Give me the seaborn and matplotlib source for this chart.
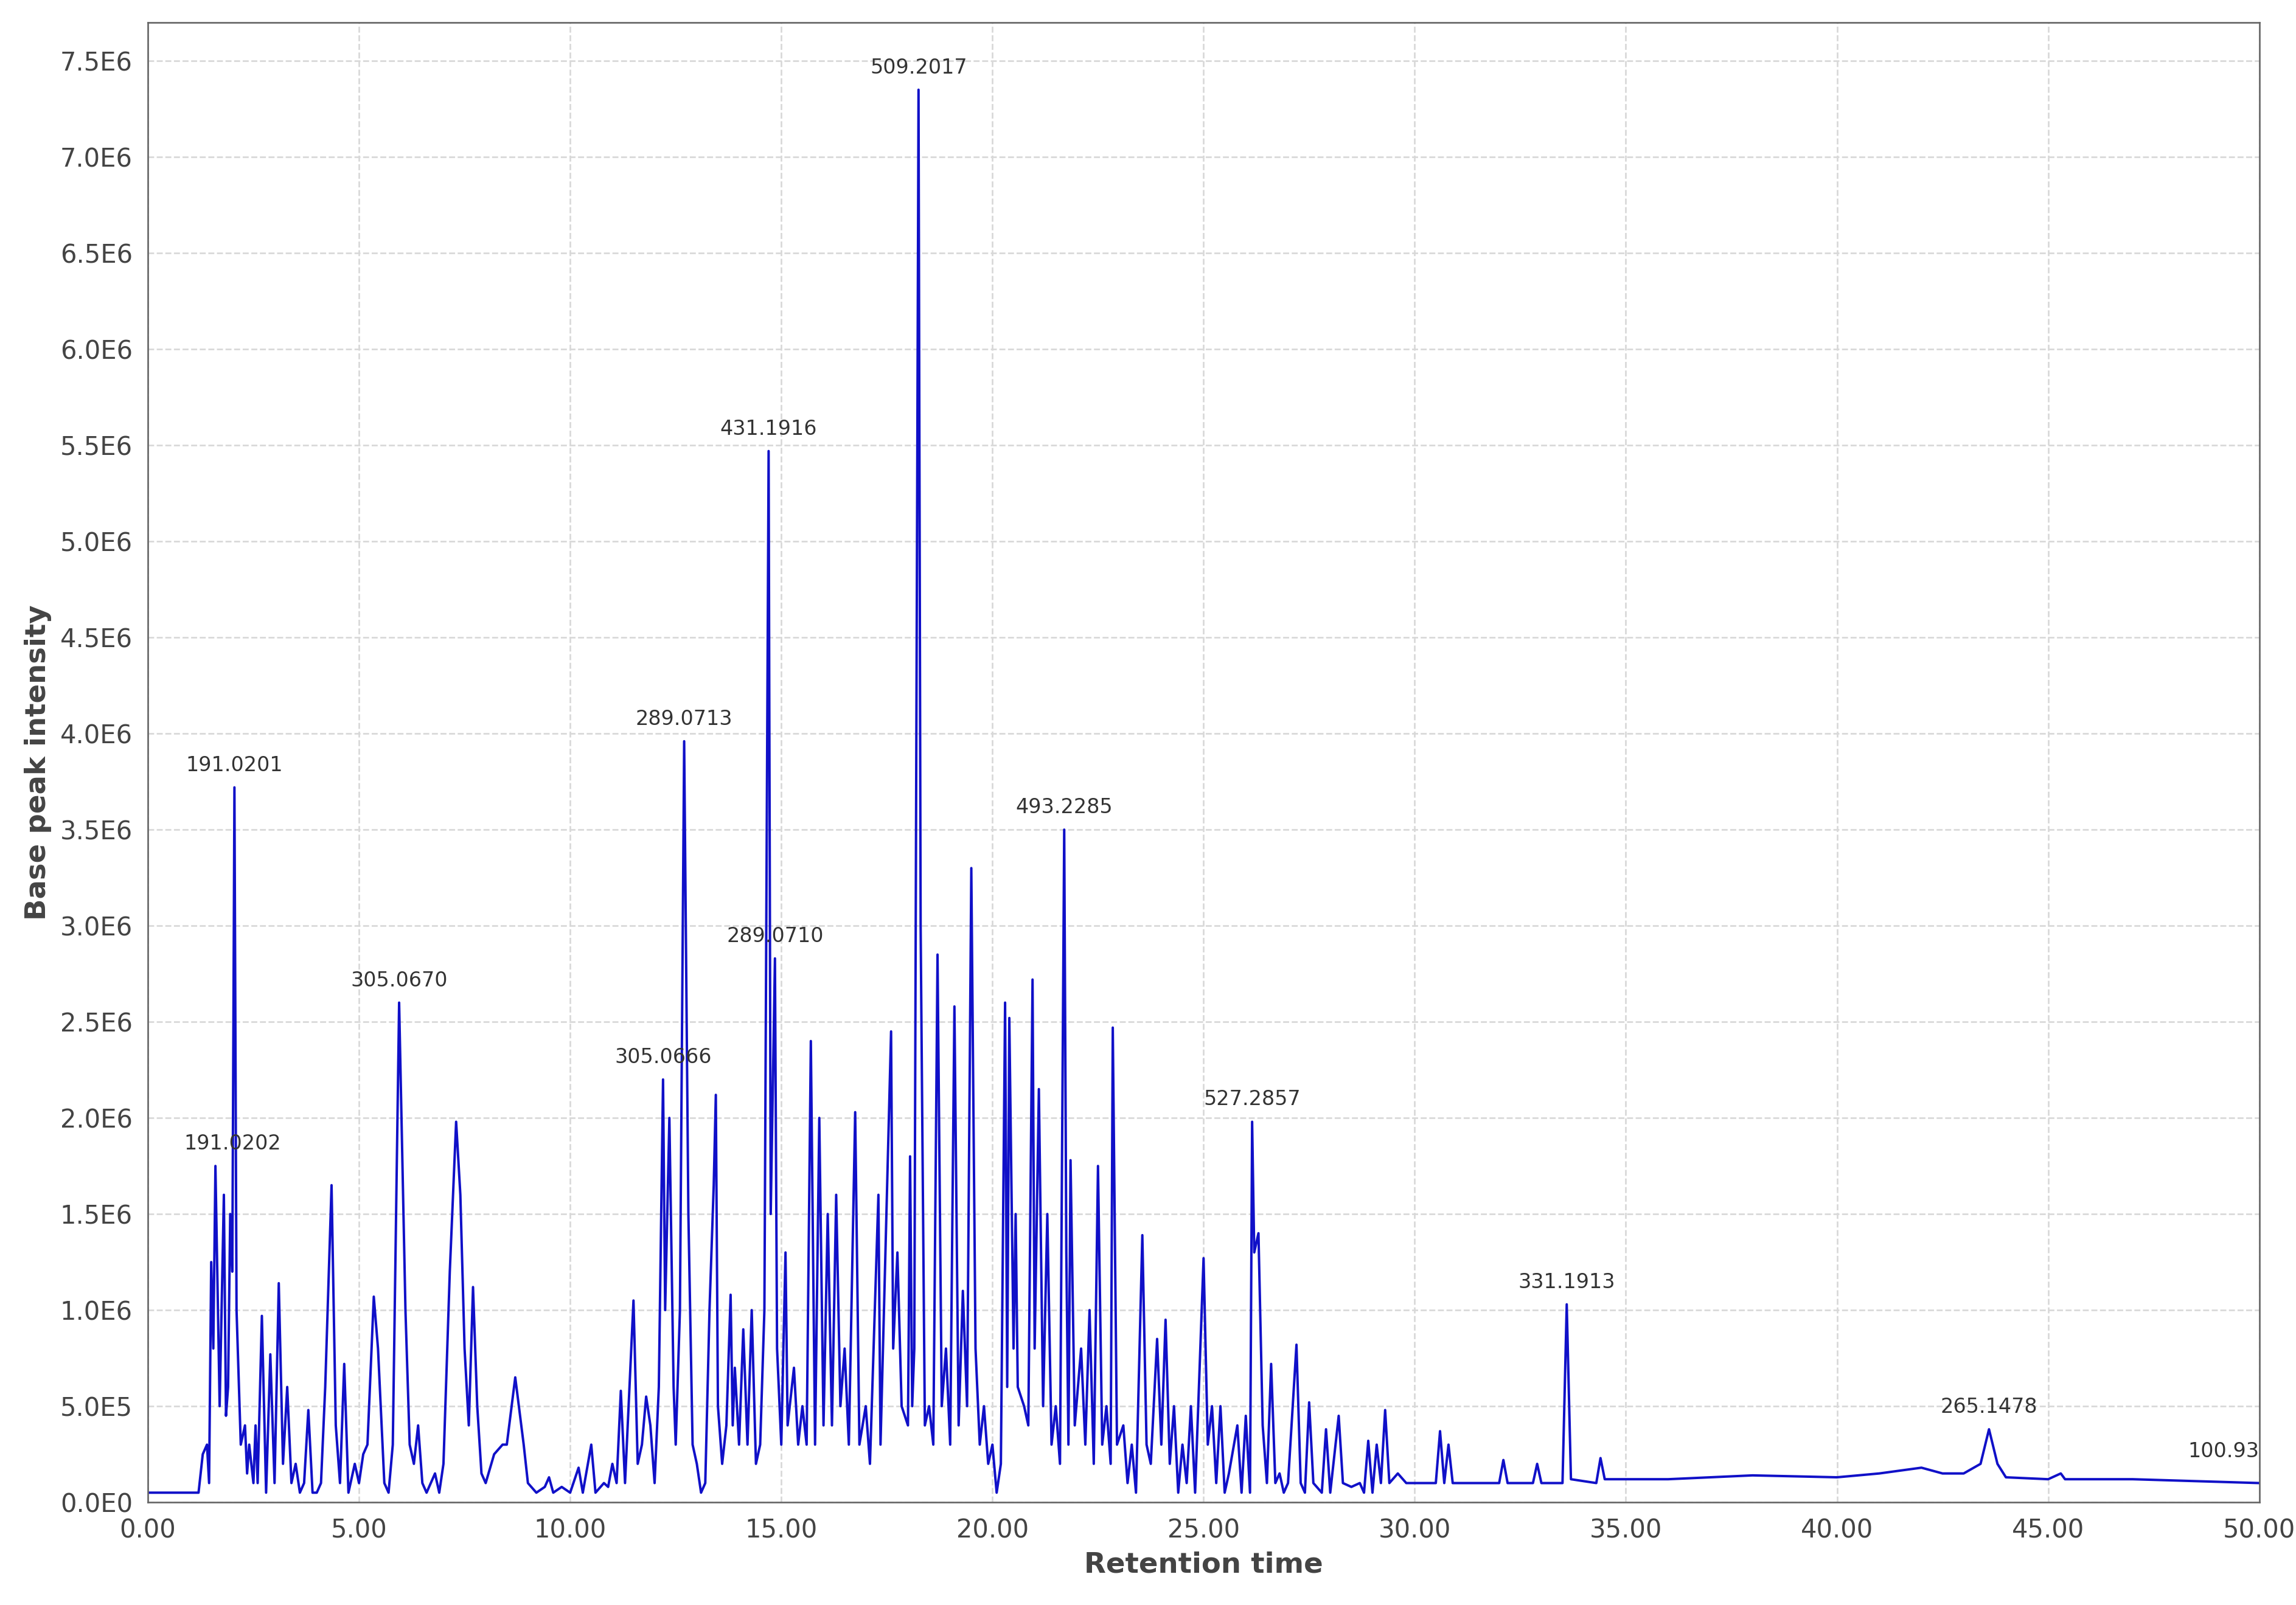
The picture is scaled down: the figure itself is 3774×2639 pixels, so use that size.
import numpy as np
import pandas as pd
import seaborn as sns
import matplotlib.pyplot as plt
import matplotlib.ticker as ticker

sns.set_style('white')
plt.rcParams['font.family'] = ['DejaVu Sans']

# retention time (min) and base peak intensity (x1E6)
rt = [0.0, 1.2, 1.3, 1.4, 1.45, 1.5, 1.55, 1.6, 1.7, 1.8, 1.85, 1.9, 1.95, 2.0, 2.05, 2.1, 2.2, 2.3, 2.35, 2.4,
      2.5, 2.55, 2.6, 2.7, 2.8, 2.9, 3.0, 3.1, 3.2, 3.3, 3.4, 3.5, 3.6, 3.7, 3.8, 3.9, 4.0, 4.1, 4.2, 4.35,
      4.45, 4.55, 4.65, 4.75, 4.9, 5.0, 5.1, 5.2, 5.35, 5.45, 5.6, 5.7, 5.8, 5.95, 6.1, 6.2, 6.3, 6.4, 6.5, 6.6,
      6.8, 6.9, 7.0, 7.15, 7.3, 7.4, 7.5, 7.6, 7.7, 7.8, 7.9, 8.0, 8.2, 8.4, 8.5, 8.7, 8.9, 9.0, 9.2, 9.4,
      9.5, 9.6, 9.8, 10.0, 10.2, 10.3, 10.5, 10.6, 10.8, 10.9, 11.0, 11.1, 11.2, 11.3, 11.5, 11.6, 11.7, 11.8, 11.9, 12.0,
      12.1, 12.2, 12.25, 12.35, 12.45, 12.5, 12.6, 12.7, 12.8, 12.9, 13.0, 13.1, 13.2, 13.3, 13.4, 13.45, 13.5, 13.6, 13.7, 13.8,
      13.85, 13.9, 14.0, 14.1, 14.2, 14.3, 14.4, 14.5, 14.6, 14.7, 14.75, 14.85, 14.9, 15.0, 15.1, 15.15, 15.3, 15.4, 15.5, 15.6,
      15.7, 15.8, 15.9, 16.0, 16.1, 16.2, 16.3, 16.4, 16.5, 16.6, 16.75, 16.85, 17.0, 17.1, 17.3, 17.35, 17.6, 17.65, 17.75, 17.85,
      18.0, 18.05, 18.1, 18.15, 18.25, 18.3, 18.4, 18.5, 18.6, 18.7, 18.8, 18.9, 19.0, 19.1, 19.2, 19.3, 19.4, 19.5, 19.6, 19.7,
      19.8, 19.9, 20.0, 20.1, 20.2, 20.3, 20.35, 20.4, 20.5, 20.55, 20.6, 20.75, 20.85, 20.95, 21.0, 21.1, 21.2, 21.3, 21.4, 21.5,
      21.6, 21.7, 21.75, 21.8, 21.85, 21.95, 22.1, 22.2, 22.3, 22.4, 22.5, 22.6, 22.7, 22.8, 22.85, 22.95, 23.1, 23.2, 23.3, 23.4,
      23.55, 23.65, 23.75, 23.9, 24.0, 24.1, 24.2, 24.3, 24.4, 24.5, 24.6, 24.7, 24.8, 25.0, 25.1, 25.2, 25.3, 25.4, 25.5, 25.6,
      25.8, 25.9, 26.0, 26.1, 26.15, 26.2, 26.3, 26.4, 26.5, 26.6, 26.7, 26.8, 26.9, 27.0, 27.2, 27.3, 27.4, 27.5, 27.6, 27.8,
      27.9, 28.0, 28.2, 28.3, 28.5, 28.7, 28.8, 28.9, 29.0, 29.1, 29.2, 29.3, 29.4, 29.6, 29.8, 30.0, 30.5, 30.6, 30.7, 30.8,
      30.9, 31.5, 32.0, 32.1, 32.2, 32.8, 32.9, 33.0, 33.5, 33.6, 33.7, 34.3, 34.4, 34.5, 36.0, 38.0, 40.0, 41.0, 42.0, 42.5,
      43.0, 43.4, 43.6, 43.8, 44.0, 45.0, 45.3, 45.4, 47.0, 50.0]
bpi = [0.05, 0.05, 0.25, 0.3, 0.1, 1.25, 0.8, 1.75, 0.5, 1.6, 0.45, 0.6, 1.5, 1.2, 3.72, 1.0, 0.3, 0.4, 0.15, 0.3,
       0.1, 0.4, 0.1, 0.97, 0.05, 0.77, 0.1, 1.14, 0.2, 0.6, 0.1, 0.2, 0.05, 0.1, 0.48, 0.05, 0.05, 0.1, 0.6, 1.65,
       0.4, 0.1, 0.72, 0.05, 0.2, 0.1, 0.25, 0.3, 1.07, 0.8, 0.1, 0.05, 0.3, 2.6, 1.0, 0.3, 0.2, 0.4, 0.1, 0.05,
       0.15, 0.05, 0.2, 1.2, 1.98, 1.6, 0.8, 0.4, 1.12, 0.5, 0.15, 0.1, 0.25, 0.3, 0.3, 0.65, 0.3, 0.1, 0.05, 0.08,
       0.13, 0.05, 0.08, 0.05, 0.18, 0.05, 0.3, 0.05, 0.1, 0.08, 0.2, 0.1, 0.58, 0.1, 1.05, 0.2, 0.3, 0.55, 0.4, 0.1,
       0.6, 2.2, 1.0, 2.0, 0.6, 0.3, 1.0, 3.96, 1.5, 0.3, 0.2, 0.05, 0.1, 1.0, 1.65, 2.12, 0.5, 0.2, 0.4, 1.08,
       0.4, 0.7, 0.3, 0.9, 0.3, 1.0, 0.2, 0.3, 1.0, 5.47, 1.5, 2.83, 0.8, 0.3, 1.3, 0.4, 0.7, 0.3, 0.5, 0.3,
       2.4, 0.3, 2.0, 0.4, 1.5, 0.4, 1.6, 0.5, 0.8, 0.3, 2.03, 0.3, 0.5, 0.2, 1.6, 0.3, 2.45, 0.8, 1.3, 0.5,
       0.4, 1.8, 0.5, 0.8, 7.35, 3.0, 0.4, 0.5, 0.3, 2.85, 0.5, 0.8, 0.3, 2.58, 0.4, 1.1, 0.5, 3.3, 0.8, 0.3,
       0.5, 0.2, 0.3, 0.05, 0.2, 2.6, 0.6, 2.52, 0.8, 1.5, 0.6, 0.5, 0.4, 2.72, 0.8, 2.15, 0.5, 1.5, 0.3, 0.5,
       0.2, 3.5, 1.3, 0.3, 1.78, 0.4, 0.8, 0.3, 1.0, 0.2, 1.75, 0.3, 0.5, 0.2, 2.47, 0.3, 0.4, 0.1, 0.3, 0.05,
       1.39, 0.3, 0.2, 0.85, 0.3, 0.95, 0.2, 0.5, 0.05, 0.3, 0.1, 0.5, 0.05, 1.27, 0.3, 0.5, 0.1, 0.5, 0.05, 0.15,
       0.4, 0.05, 0.45, 0.05, 1.98, 1.3, 1.4, 0.4, 0.1, 0.72, 0.1, 0.15, 0.05, 0.1, 0.82, 0.1, 0.05, 0.52, 0.1, 0.05,
       0.38, 0.05, 0.45, 0.1, 0.08, 0.1, 0.05, 0.32, 0.05, 0.3, 0.1, 0.48, 0.1, 0.15, 0.1, 0.1, 0.1, 0.37, 0.1, 0.3,
       0.1, 0.1, 0.1, 0.22, 0.1, 0.1, 0.2, 0.1, 0.1, 1.03, 0.12, 0.1, 0.23, 0.12, 0.12, 0.14, 0.13, 0.15, 0.18, 0.15,
       0.15, 0.2, 0.38, 0.2, 0.13, 0.12, 0.15, 0.12, 0.12, 0.1]

# peak labels (m/z) with the retention time of the labelled peak
label_text = ['191.0201', '191.0202', '305.0670', '305.0666', '289.0713', '431.1916', '289.0710',
              '509.2017', '493.2285', '527.2857', '331.1913', '265.1478', '100.933']
label_rt = [2.05, 2.0, 5.95, 12.2, 12.7, 14.7, 14.85, 18.25, 21.7, 26.15, 33.6, 43.6, 49.3]
label_y = [3.72, 1.75, 2.6, 2.2, 3.96, 5.47, 2.83, 7.35, 3.5, 1.98, 1.03, 0.38, 0.15]

df = pd.DataFrame({'rt': rt, 'bpi': np.array(bpi) * 1e6})

fig = plt.figure(figsize=(3774 / 240, 2639 / 240), dpi=240)
ax = fig.add_axes([0.0644, 0.064, 0.9196, 0.922])
sns.lineplot(data=df, x='rt', y='bpi', color='#1010c8', linewidth=1.2, ax=ax)

for t, tx, ty in zip(label_text, label_rt, label_y):
    ax.annotate(t, (tx, ty * 1e6), xytext=(0, 6), textcoords='offset points',
                ha='center', va='bottom', fontsize=10, color='#333333', clip_on=True,
                annotation_clip=False)

ax.set_xlim(0, 50)
ax.set_ylim(0, 7.7e6)
ax.xaxis.set_major_locator(ticker.MultipleLocator(5))
ax.yaxis.set_major_locator(ticker.MultipleLocator(5e5))
ax.xaxis.set_major_formatter(ticker.FuncFormatter(lambda v, p: f'{v:.2f}'))


def sci(v, p):
    if v == 0:
        return '0.0E0'
    e = int(np.floor(np.log10(abs(v))))
    return f'{v / 10 ** e:.1f}E{e}'


ax.yaxis.set_major_formatter(ticker.FuncFormatter(sci))
ax.grid(True, color='#d8d8d8', linestyle='--', linewidth=0.8)
ax.tick_params(labelsize=12.5, colors='#444444', length=4, direction='out')
ax.tick_params(axis='both', color='#888888')
for s in ax.spines.values():
    s.set_color('#666666')
ax.set_xlabel('Retention time', fontsize=14, fontweight='bold', color='#444444')
ax.set_ylabel('Base peak intensity', fontsize=14, fontweight='bold', color='#444444')

fig.savefig('out.png', dpi=240)
